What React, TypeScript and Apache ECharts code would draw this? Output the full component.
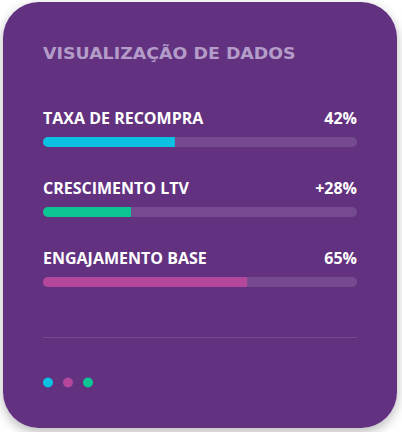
import React, { useEffect, useRef } from "react";
import * as echarts from "echarts";

const categories = ["TAXA DE RECOMPRA", "CRESCIMENTO LTV", "ENGAJAMENTO BASE"];
const values = [42, 28, 65];
const valueLabels = ["42%", "+28%", "65%"];
const barColors = ["#0bc0e0", "#0cc592", "#b4479b"];
const trackMax = [100, 100, 100];
const title = "VISUALIZAÇÃO DE DADOS";

export default function App() {
  const ref = useRef<HTMLDivElement>(null);
  useEffect(() => {
    if (!ref.current) return;
    const chart = echarts.init(ref.current, null, { renderer: "svg" });
    const labelFont = {
      fontFamily: "Open Sans",
      fontWeight: "bold" as const,
      fontSize: 16,
      color: "#ffffff",
    };
    chart.setOption({
      animation: false,
      backgroundColor: "#ffffff",
      graphic: [
        {
          type: "rect",
          z: -10,
          shape: { x: 3, y: 2, width: 394, height: 426, r: 36 },
          style: {
            fill: "#623080",
            shadowBlur: 12,
            shadowOffsetY: 4,
            shadowColor: "rgba(0,0,0,0.28)",
          },
        },
        {
          type: "text",
          x: 43,
          y: 53,
          scaleX: 1.09,
          style: {
            text: title,
            fill: "#b49cc9",
            font: "bold 16px 'DejaVu Sans'",
            verticalAlign: "middle",
            align: "left",
          },
        },
        {
          type: "line",
          shape: { x1: 43, y1: 337.5, x2: 357, y2: 337.5 },
          style: { stroke: "rgba(255,255,255,0.12)", lineWidth: 1 },
        },
        ...barColors.map((c, i) => ({
          type: "circle",
          shape: { cx: 48 + i * 20, cy: 382.5, r: 5 },
          style: { fill: [barColors[0], barColors[2], barColors[1]][i] },
        })),
      ],
      grid: { left: 43, right: 45, top: 107, height: 210, containLabel: false },
      xAxis: { type: "value", min: 0, max: 100, show: false },
      yAxis: {
        type: "category",
        data: categories,
        inverse: true,
        show: false,
      },
      series: [
        {
          type: "bar",
          data: trackMax,
          barWidth: 10,
          barGap: "-100%",
          silent: true,
          itemStyle: { color: "rgba(255,255,255,0.12)", borderRadius: 5 },
          label: {
            show: true,
            position: ["100%", -19],
            align: "right",
            verticalAlign: "middle",
            formatter: (p: any) => valueLabels[p.dataIndex],
            ...labelFont,
          },
          z: 1,
        },
        {
          type: "bar",
          data: values.map((v, i) => ({ value: v, itemStyle: { color: barColors[i] } })),
          barWidth: 10,
          itemStyle: { borderRadius: [5, 0, 0, 5] },
          label: {
            show: true,
            position: [0, -19],
            align: "left",
            verticalAlign: "middle",
            formatter: (p: any) => categories[p.dataIndex],
            ...labelFont,
          },
          z: 2,
        },
      ],
    });
    return () => chart.dispose();
  }, []);
  return (
    <div
      ref={ref}
      style={{ position: "fixed", left: 0, top: 0, width: 402, height: 432 }}
    />
  );
}
